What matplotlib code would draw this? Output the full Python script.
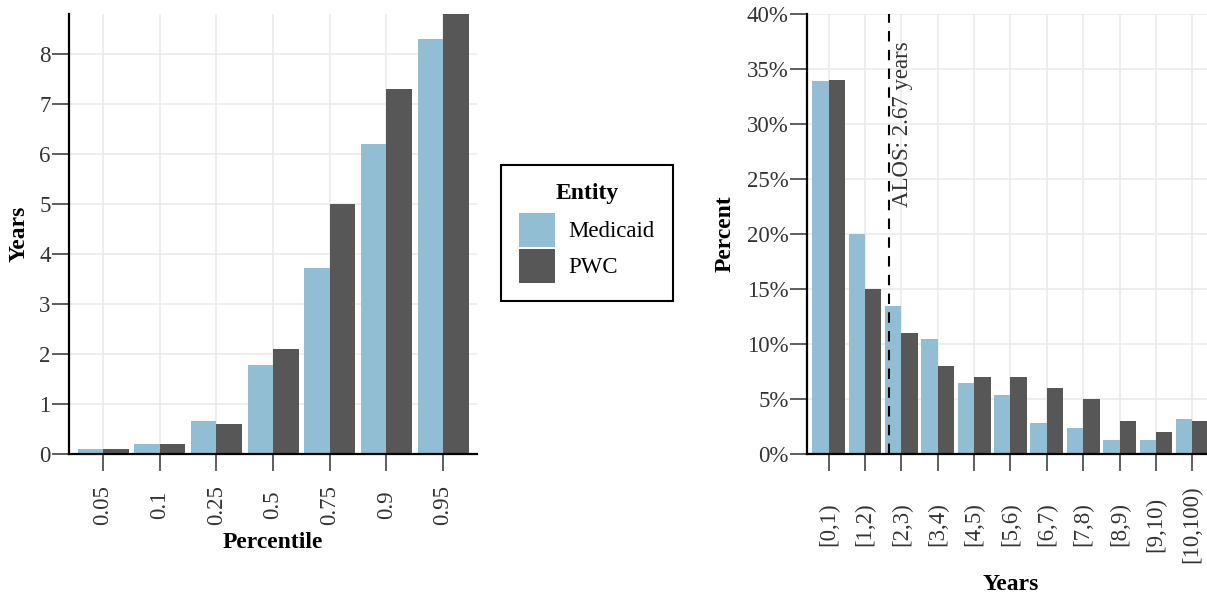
import numpy as np
import matplotlib
matplotlib.use('Agg')
import matplotlib.pyplot as plt
from matplotlib.patches import Patch
from matplotlib.ticker import FuncFormatter

# percentile of length of stay, in years
percentiles = ['0.05', '0.1', '0.25', '0.5', '0.75', '0.9', '0.95']
medicaid_years = [0.1, 0.2, 0.66, 1.78, 3.72, 6.2, 8.31]
pwc_years = [0.1, 0.2, 0.6, 2.1, 5.0, 7.3, 8.8]

# share of stays by length bin, in percent
bins = ['[0,1)', '[1,2)', '[2,3)', '[3,4)', '[4,5)', '[5,6)', '[6,7)',
        '[7,8)', '[8,9)', '[9,10)', '[10,100)']
medicaid_pct = [33.9, 20.0, 13.45, 10.45, 6.45, 5.36, 2.8, 2.36, 1.27, 1.27, 3.18]
pwc_pct = [34.0, 15.0, 11.0, 8.0, 7.0, 7.0, 6.0, 5.0, 3.0, 2.0, 3.0]
alos = 2.67

entities = ['Medicaid', 'PWC']
colors = ['#92BED3', '#575757']

plt.rcParams['font.family'] = ['Liberation Serif', 'DejaVu Serif']
FS = 16.5
TXT = '#333333'
GRID = '#EBEBEB'
W, H = 1207, 593
DPI = 100
px = 72 / DPI  # points per pixel


def style_axes(ax, n):
	ax.set_xlim(-0.6, n - 1 + 0.6)
	ax.set_xticks(np.arange(n))
	ax.grid(True, color=GRID, linewidth=1.2, zorder=0)
	ax.set_axisbelow(True)
	for s in ['top', 'right']:
		ax.spines[s].set_visible(False)
	for s in ['left', 'bottom']:
		ax.spines[s].set_linewidth(1.6)
		ax.spines[s].set_color('black')
	ax.tick_params(axis='both', length=17 * px, width=1.1, color=TXT,
		labelcolor=TXT, labelsize=FS)
	ax.tick_params(axis='y', pad=1)


def dodge_bars(ax, a, b):
	x = np.arange(len(a))
	ax.bar(x - 0.225, a, width=0.45, color=colors[0], zorder=2)
	ax.bar(x + 0.225, b, width=0.45, color=colors[1], zorder=2)


fig = plt.figure(figsize=(W / DPI, H / DPI), dpi=DPI)

# left: percentiles
ax1 = fig.add_axes([69 / W, 1 - 454 / H, (477 - 69) / W, (454 - 14) / H])
dodge_bars(ax1, medicaid_years, pwc_years)
style_axes(ax1, len(percentiles))
ax1.set_ylim(0, max(pwc_years))
ax1.set_yticks(range(0, 9))
ax1.set_xticklabels(percentiles, rotation=90, va='center')
ax1.tick_params(axis='x', pad=34 * px)
ax1.set_xlabel('Percentile', fontsize=17, fontweight='bold', labelpad=5)
ax1.set_ylabel('Years', fontsize=17, fontweight='bold', labelpad=7)

# right: distribution of length of stay
ax2 = fig.add_axes([807 / W, 1 - 454 / H, (1214 - 807) / W, (454 - 14) / H])
dodge_bars(ax2, medicaid_pct, pwc_pct)
style_axes(ax2, len(bins))
ax2.set_ylim(0, 40)
ax2.set_yticks(range(0, 41, 5))
ax2.yaxis.set_major_formatter(FuncFormatter(lambda v, p: '%d%%' % v))
ax2.set_xticklabels(bins, rotation=90, va='center')
ax2.tick_params(axis='x', pad=53 * px)
ax2.set_xlabel('Years', fontsize=17, fontweight='bold', labelpad=8)
ax2.set_ylabel('Percent', fontsize=17, fontweight='bold', labelpad=8)

alos_x = alos - 1
ax2.axvline(alos_x, color='black', linewidth=1.5, linestyle=(0, (5, 4)), zorder=3)
ax2.text(alos_x + 0.36, 30, 'ALOS: %.2f years' % alos, rotation=90,
	ha='center', va='center', fontsize=FS, color=TXT)

handles = [Patch(facecolor=c) for c in colors]
leg = fig.legend(handles, entities, title='Entity', loc='center',
	bbox_to_anchor=(587 / W, 1 - 233 / H), fontsize=FS,
	title_fontproperties={'weight': 'bold', 'size': 17},
	handlelength=1.53, handleheight=1.9, handletextpad=0.6,
	labelspacing=0.09, borderpad=0.8, fancybox=False, framealpha=1)
leg._legend_box.sep = 6
leg.get_frame().set_edgecolor('black')
leg.get_frame().set_linewidth(1.5)

fig.savefig('out.png', dpi=DPI)
